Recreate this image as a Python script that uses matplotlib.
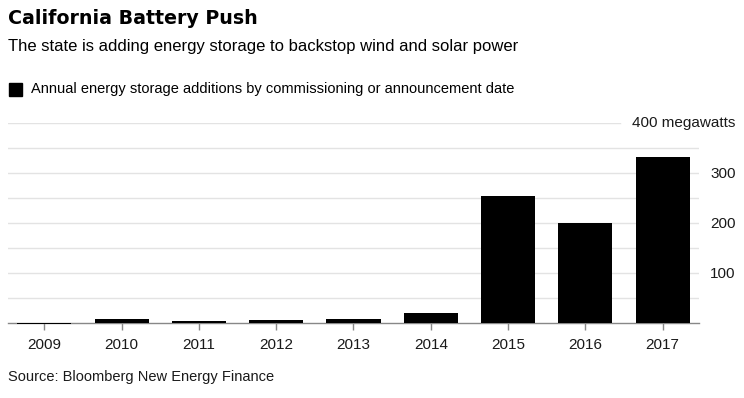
import matplotlib.pyplot as plt

plt.rcParams['font.family'] = ['Liberation Sans', 'DejaVu Sans']

# data (megawatts)
years = ['2009', '2010', '2011', '2012', '2013', '2014', '2015', '2016', '2017']
additions = [-2, 8, 5, 7, 9, 21, 255, 201, 332]

grid_ticks = [50, 100, 150, 200, 250, 300, 350]
grid_labels = ['', '100', '', '200', '', '300', '']

fig = plt.figure(figsize=(7.44, 3.98), dpi=100)
ax = fig.add_axes([8 / 744, 1 - 323 / 398, 691 / 744, 200 / 398])

x = range(len(years))
ax.bar(x, additions, width=0.7, color='black', zorder=3, clip_on=False)

ax.set_xlim(-0.47, 8.47)
ax.set_ylim(0, 400)

ax.set_yticks(grid_ticks)
ax.set_yticklabels(grid_labels)
ax.yaxis.tick_right()
ax.tick_params(axis='y', length=0, pad=8, labelsize=11, labelcolor='#1a1a1a')
ax.grid(axis='y', color='#e3e3e3', linewidth=1, zorder=0)
ax.axhline(400, xmin=0, xmax=0.886, color='#e3e3e3', linewidth=1, zorder=0)
ax.text((735 - 8) / 691, 400, '400 megawatts', transform=ax.get_yaxis_transform(),
        ha='right', va='center', fontsize=11, color='#1a1a1a', clip_on=False)

ax.set_xticks(list(x))
ax.set_xticklabels(years)
ax.tick_params(axis='x', length=5, width=1, color='#888888', pad=6,
               labelsize=11, labelcolor='#1a1a1a')

for s in ['top', 'right', 'left']:
    ax.spines[s].set_visible(False)
ax.spines['bottom'].set_color('#888888')
ax.spines['bottom'].set_linewidth(1)
ax.spines['bottom'].set_zorder(2)

fig.text(8 / 744, 1 - 19 / 398, 'California Battery Push', fontsize=13.7,
         fontweight='heavy', va='center', ha='left', family='DejaVu Sans')
fig.text(8 / 744, 1 - 46 / 398,
         'The state is adding energy storage to backstop wind and solar power',
         fontsize=12, va='center', ha='left')

# legend swatch + label
fig.patches.append(plt.Rectangle((9 / 744, 1 - 96 / 398), 13 / 744, 13 / 398,
                                 transform=fig.transFigure, color='black'))
fig.text(31 / 744, 1 - 89.5 / 398,
         'Annual energy storage additions by commissioning or announcement date',
         fontsize=10.5, va='center', ha='left')

fig.text(8 / 744, 1 - 377 / 398, 'Source: Bloomberg New Energy Finance',
         fontsize=10.5, va='center', ha='left', color='#1a1a1a')

fig.savefig('out.png', dpi=100)
